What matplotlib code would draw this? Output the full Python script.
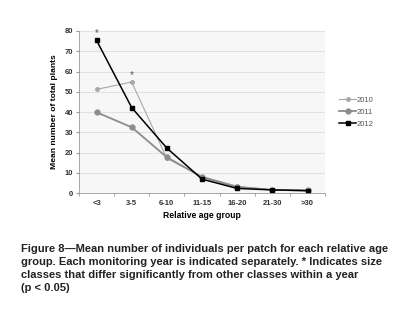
import numpy as np
import matplotlib.pyplot as plt

# Data
groups = ['<3', '3-5', '6-10', '11-15', '16-20', '21-30', '>30']
y2010 = [51.2, 54.8, 17.1, 8.2, 3.4, 1.6, 1.5]
y2011 = [39.9, 32.5, 17.7, 7.9, 3.0, 1.6, 1.3]
y2012 = [75.4, 42.2, 22.2, 6.9, 2.3, 1.6, 1.2]

plt.rcParams['font.family'] = ['Liberation Sans', 'DejaVu Sans']

fig = plt.figure(figsize=(4.09, 3.13), dpi=100)
ax = fig.add_axes([0.193, 0.383, 0.602, 0.518])
ax.set_facecolor('#f7f7f7')

x = np.arange(len(groups))
ax.plot(x, y2010, '-', color='#a8a8a8', lw=0.8, marker='o', ms=2.5, label='2010')
ax.plot(x, y2011, '-', color='#8c8c8c', lw=1.3, marker='o', ms=3.5, label='2011')
ax.plot(x, y2012, '-', color='black', lw=1.1, marker='s', ms=3, label='2012')

# significance stars
ax.text(0, y2012[0] + 1.2, '*', ha='center', va='bottom', fontsize=7, color='#555555')
ax.text(1, y2010[1] + 1.2, '*', ha='center', va='bottom', fontsize=7, color='#555555')

ax.set_xlim(-0.5, len(groups) - 0.5)
ax.set_ylim(0, 80)
ax.set_yticks(range(0, 81, 10))
ax.set_xticks(x)
ax.set_xticklabels(groups)
ax.set_xticks(np.arange(-0.5, len(groups), 1), minor=True)
ax.tick_params(axis='x', which='major', length=0, labelsize=5.5, pad=5)
ax.tick_params(axis='x', which='minor', length=2, color='#999999')
ax.tick_params(axis='y', length=2, color='#999999', labelsize=5.5, pad=2)
for lab in ax.get_xticklabels() + ax.get_yticklabels():
    lab.set_fontweight('bold')
    lab.set_color('#333333')

ax.grid(axis='y', color='#dddddd', lw=0.6)
ax.set_axisbelow(True)
for s in ['top', 'right']:
    ax.spines[s].set_visible(False)
ax.spines['left'].set_color('#999999')
ax.spines['bottom'].set_color('#999999')
ax.spines['left'].set_linewidth(0.6)
ax.spines['bottom'].set_linewidth(0.6)

ax.set_ylabel('Mean number of total plants', fontsize=6.1, fontweight='bold', labelpad=5)
ax.set_xlabel('Relative age group', fontsize=6.2, fontweight='bold', labelpad=3)

leg = ax.legend(loc='center left', bbox_to_anchor=(1.03, 0.5), frameon=False,
                fontsize=5.5, handlelength=2.2, handletextpad=0.1, labelspacing=0.6)
for t in leg.get_texts():
    t.set_color('#555555')

caption = ('Figure 8\u2014Mean number of individuals per patch for each relative age\n'
           'group. Each monitoring year is indicated separately. * Indicates size\n'
           'classes that differ significantly from other classes within a year\n'
           '(p < 0.05)')
fig.text(0.051, 0.222, caption, fontsize=8.0, fontweight='bold', va='top', ha='left',
         color='#222222', linespacing=1.4)

plt.savefig('out.png', dpi=100)
